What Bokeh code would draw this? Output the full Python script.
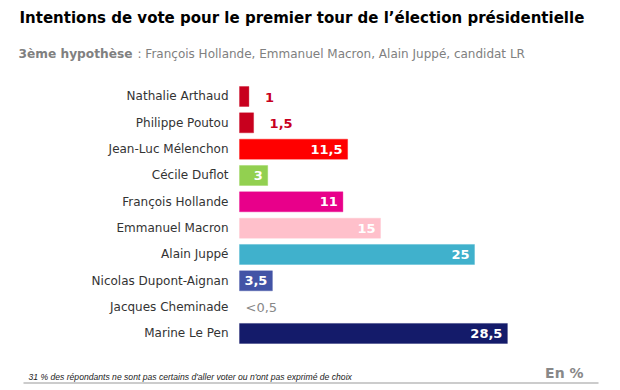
from bokeh.plotting import figure
from bokeh.models import ColumnDataSource, Range1d, Label, BoxAnnotation
from bokeh.core.properties import value
from bokeh.embed import file_html
from bokeh.resources import INLINE

# ---- data ----
candidates = ["Nathalie Arthaud", "Philippe Poutou", "Jean-Luc Mélenchon", "Cécile Duflot",
              "François Hollande", "Emmanuel Macron", "Alain Juppé", "Nicolas Dupont-Aignan",
              "Jacques Cheminade", "Marine Le Pen"]
scores = [1, 1.5, 11.5, 3, 11, 15, 25, 3.5, 0, 28.5]
score_labels = ["1", "1,5", "11,5", "3", "11", "15", "25", "3,5", "<0,5", "28,5"]
bar_colors = ["#c8001e", "#c8001e", "#ff0000", "#92d050", "#e8008a",
              "#ffc0cb", "#40b1cc", "#4354a6", "#ffffff", "#141b6a"]

W, H = 620, 390
rows = list(range(len(candidates)))

p = figure(width=W, height=H, output_backend="svg", toolbar_location=None,
           x_axis_location=None, y_axis_location=None, min_border=0,
           x_range=Range1d(-25.426, 40.531), y_range=Range1d(11.166, -3.646))
p.outline_line_color = None
p.grid.visible = False
p.background_fill_color = "white"
p.border_fill_color = "white"

src = ColumnDataSource(dict(y=rows, name=candidates, v=scores, lab=score_labels, c=bar_colors))
p.hbar(y="y", left=0, right="v", height=0.76, fill_color="c", line_color="c",
       line_alpha=0.35, line_width=1, source=src)

# candidate names
p.text(x=0, y="y", text="name", source=src, x_offset=-11, text_align="right",
       text_baseline="middle", text_font=value("DejaVu Sans"), text_font_size="12px",
       text_color="#333333")

# value labels
inside = [i for i, v in enumerate(scores) if v >= 3]
outside = [i for i, v in enumerate(scores) if 0 < v < 3]
nobar = [i for i, v in enumerate(scores) if v == 0]

def sub(idx):
    return ColumnDataSource(dict(y=[rows[i] for i in idx], v=[scores[i] for i in idx],
                                 lab=[score_labels[i] for i in idx]))

p.text(x="v", y="y", text="lab", source=sub(inside), x_offset=-5, text_align="right",
       text_baseline="middle", text_font=value("DejaVu Sans"), text_font_size="13px",
       text_font_style="bold", text_color="white")
p.text(x="v", y="y", text="lab", source=sub(outside), x_offset=16, y_offset=1, text_align="left",
       text_baseline="middle", text_font=value("DejaVu Sans"), text_font_size="13px",
       text_font_style="bold", text_color="#c8001e")
p.text(x="v", y="y", text="lab", source=sub(nobar), x_offset=6, text_align="left",
       text_baseline="middle", text_font=value("DejaVu Sans"), text_font_size="13px",
       text_color="#888888")

# titles and notes
def lab(text, x, y, size, color, style="normal", font="DejaVu Sans", align="left"):
    p.add_layout(Label(x=x, y=y, x_units="screen", y_units="screen", text=text,
                       text_font=font, text_font_size=size, text_color=color,
                       text_font_style=style, text_align=align, text_baseline="middle"))

lab("Intentions de vote pour le premier tour de l’élection présidentielle", 19, H - 17, "15px", "#000000", "bold")
lab("3ème hypothèse", 18, H - 53, "12.2px", "#808080", "bold")
lab(": François Hollande, Emmanuel Macron, Alain Juppé, candidat LR", 137, H - 53, "12px", "#808080")
lab("31 % des répondants ne sont pas certains d'aller voter ou n'ont pas exprimé de choix",
    28, H - 376, "8.6px", "#222222", "italic", "Liberation Sans")
lab("En %", 583, H - 372, "14px", "#888888", "bold", align="right")

p.add_layout(BoxAnnotation(left=23, right=598, bottom=H - 383, top=H - 382, left_units="screen",
                           right_units="screen", bottom_units="screen", top_units="screen",
                           fill_color="#999999", fill_alpha=1, line_color=None))

open("out.html", "w").write(file_html(p, INLINE))
